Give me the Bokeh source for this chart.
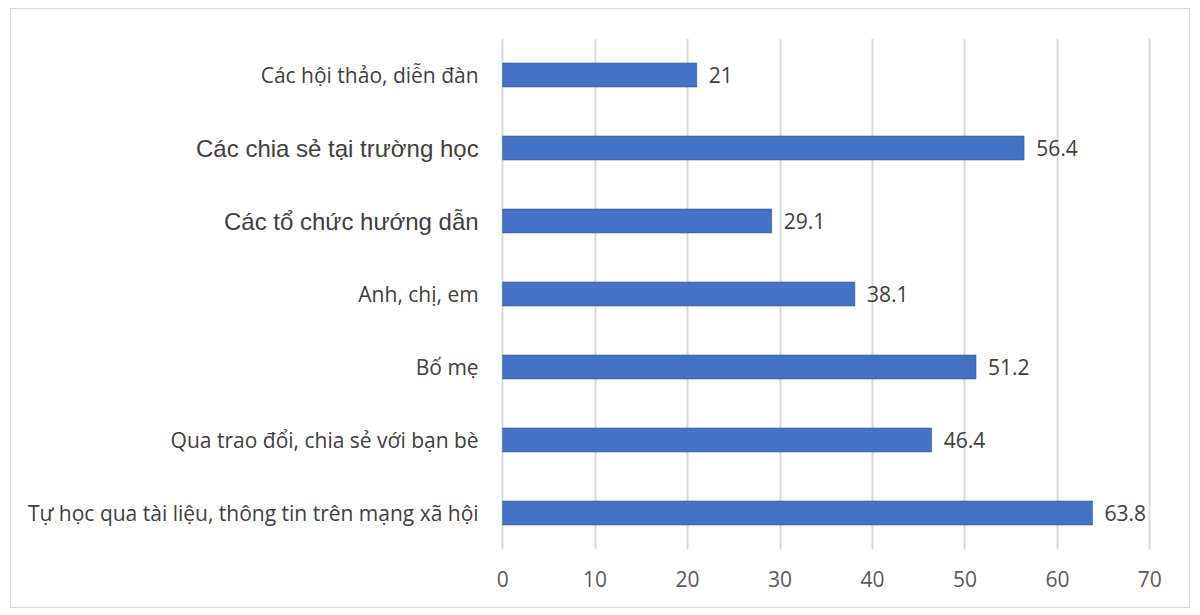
from bokeh.plotting import figure
from bokeh.models import ColumnDataSource, Range1d, FactorRange, FixedTicker
from bokeh.embed import file_html
from bokeh.resources import INLINE
from bokeh.core.properties import value

categories = [
    "Các hội thảo, diễn đàn",
    "Các chia sẻ tại trường học",
    "Các tổ chức hướng dẫn",
    "Anh, chị, em",
    "Bố mẹ",
    "Qua trao đổi, chia sẻ với bạn bè",
    "Tự học qua tài liệu, thông tin trên mạng xã hội",
]
values = [21, 56.4, 29.1, 38.1, 51.2, 46.4, 63.8]
value_labels = ["21", "56.4", "29.1", "38.1", "51.2", "46.4", "63.8"]
x_ticks = [0, 10, 20, 30, 40, 50, 60, 70]

# per-label font styling (two labels in the source use a different typeface)
label_fonts = ["Open Sans", "Liberation Sans", "Liberation Sans", "Open Sans", "Open Sans", "Open Sans", "Open Sans"]
label_sizes = ["21px", "24px", "24px", "21px", "21px", "21px", "21px"]

src = ColumnDataSource(dict(cat=categories, val=values, lab=value_labels,
                            zero=[0] * len(values), font=label_fonts, size=label_sizes))

# the frame spans the label column too, so the category labels are drawn inside it
p = figure(width=1180, height=600, output_backend="svg", toolbar_location=None,
           y_range=FactorRange(*reversed(categories)), x_range=Range1d(-52.9, 70.5),
           min_border_left=2, min_border_right=37, min_border_top=29, min_border_bottom=60)

p.hbar(y="cat", right="val", left=0, height=0.33, source=src, color="#4472C4",
       line_color="#2F5597", line_width=0.5)

p.text(x="val", y="cat", text="lab", source=src, x_offset=12, text_baseline="middle",
       text_align="left", text_font=value("Open Sans"), text_font_size="21px",
       text_color="#404040")
p.text(x="zero", y="cat", text="cat", source=src, x_offset=-24, text_baseline="middle",
       text_align="right", text_font="font", text_font_size="size", text_color="#404040")

p.xaxis.ticker = FixedTicker(ticks=x_ticks)
p.xaxis.axis_line_color = None
p.xaxis.major_tick_line_color = None
p.xaxis.minor_tick_line_color = None
p.xaxis.major_label_text_font = "Open Sans"
p.xaxis.major_label_text_font_size = "21px"
p.xaxis.major_label_text_color = "#595959"
p.xaxis.major_label_standoff = 15

p.yaxis.visible = False
p.ygrid.grid_line_color = None
p.xgrid.grid_line_color = "#D9D9D9"
p.xgrid.grid_line_width = 2
p.outline_line_color = None
p.border_fill_color = "white"
p.background_fill_color = "white"

p.styles = {"border": "1.5px solid #D9D9D9", "margin-left": "10px", "margin-top": "8px"}

open("out.html", "w").write(file_html(p, INLINE))
